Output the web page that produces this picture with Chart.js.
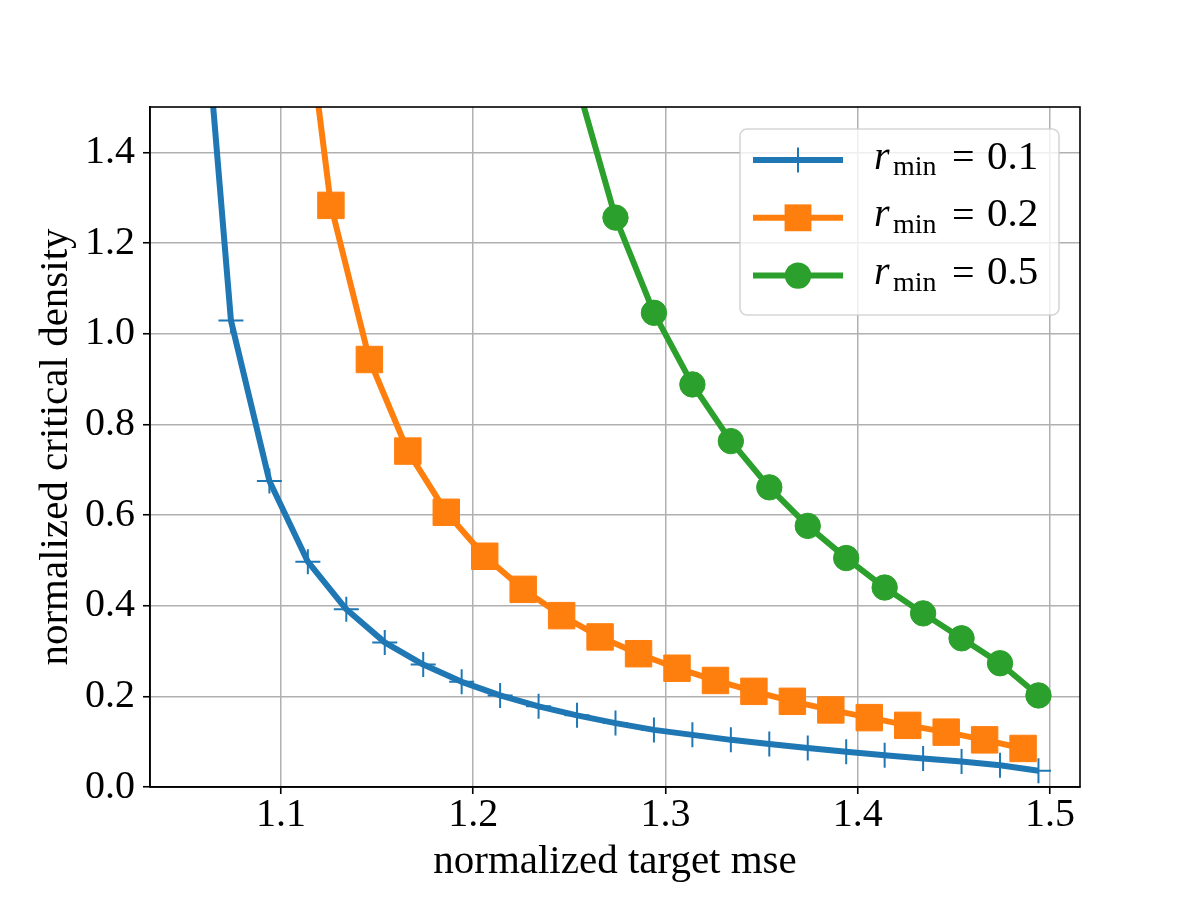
<!DOCTYPE html>
<html>
<head>
<meta charset="utf-8">
<title>critical density vs target mse</title>
<script src="https://cdn.jsdelivr.net/npm/chart.js@4.4.1/dist/chart.umd.min.js"></script>
<style>
  html, body { margin: 0; padding: 0; background: #fff; }
  canvas { display: block; }
</style>
</head>
<body>
<canvas id="myChart" width="1200" height="900"></canvas>
<script>
// values (first point of each series sits above the visible range)
const blueX = [1.054, 1.074, 1.094, 1.114, 1.134, 1.154, 1.174, 1.194, 1.214, 1.234, 1.254, 1.274,
               1.294, 1.314, 1.334, 1.354, 1.374, 1.394, 1.414, 1.434, 1.454, 1.474, 1.494]
const blueY = [2.05, 1.029, 0.675, 0.497, 0.392, 0.319, 0.270, 0.232, 0.202, 0.178, 0.158, 0.141,
               0.126, 0.115, 0.104, 0.095, 0.086, 0.078, 0.070, 0.063, 0.056, 0.048, 0.036]

const orangeX = [1.106, 1.126, 1.146, 1.166, 1.186, 1.206, 1.226, 1.246, 1.266, 1.286, 1.306, 1.326,
                 1.346, 1.366, 1.386, 1.406, 1.426, 1.446, 1.466, 1.486]
const orangeY = [1.96, 1.283, 0.943, 0.741, 0.606, 0.509, 0.436, 0.378, 0.331, 0.294, 0.262, 0.235,
                 0.211, 0.189, 0.170, 0.153, 0.136, 0.121, 0.104, 0.085]

const greenX = [1.254, 1.274, 1.294, 1.314, 1.334, 1.354, 1.374, 1.394, 1.414, 1.434, 1.454, 1.474, 1.494]
const greenY = [1.553, 1.256, 1.046, 0.888, 0.763, 0.661, 0.576, 0.505, 0.440, 0.383, 0.328, 0.273, 0.202]

const rMin = ['0.1', '0.2', '0.5']
const xTicks = [1.1, 1.2, 1.3, 1.4, 1.5]
const yTicks = [0.0, 0.2, 0.4, 0.6, 0.8, 1.0, 1.2, 1.4]
const xLimits = [1.0319, 1.5156]
const yLimits = [0, 1.5]
const xLabel = 'normalized target mse'
const yLabel = 'normalized critical density'

const FONT = "'Liberation Serif', 'DejaVu Serif', serif"
const BLUE = '#1f77b4', ORANGE = '#ff7f0e', GREEN = '#2ca02c'

function toPoints(xs, ys){
    return xs.map((x, i) => ({x: x, y: ys[i]}))
}

// black box around the axes, like matplotlib spines
const framePlugin = {
    id: 'frame',
    afterDraw(chart){
        const {ctx, chartArea: a} = chart
        ctx.save()
        ctx.strokeStyle = '#000'
        ctx.lineWidth = 1.6
        ctx.strokeRect(a.left, a.top, a.right - a.left, a.bottom - a.top)
        ctx.restore()
    }
}

function drawMarker(ctx, style, x, y, r){
    ctx.beginPath()
    if(style === 'cross'){
        ctx.lineWidth = 2
        ctx.moveTo(x - r, y); ctx.lineTo(x + r, y)
        ctx.moveTo(x, y - r); ctx.lineTo(x, y + r)
        ctx.stroke()
    } else if(style === 'rect'){
        const s = Math.SQRT1_2 * r
        ctx.rect(x - s, y - s, 2 * s, 2 * s)
        ctx.fill()
    } else {
        ctx.arc(x, y, r, 0, Math.PI * 2)
        ctx.fill()
    }
}

// legend drawn by hand so the subscript "min" can be set smaller
const legendPlugin = {
    id: 'mplLegend',
    afterDraw(chart){
        const ctx = chart.ctx
        ctx.save()
        ctx.beginPath()
        ctx.roundRect(740, 129, 319, 186, 7)
        ctx.fillStyle = 'rgba(255,255,255,0.8)'
        ctx.fill()
        ctx.strokeStyle = 'rgba(204,204,204,0.8)'
        ctx.lineWidth = 1.6
        ctx.stroke()

        chart.data.datasets.forEach((ds, i) => {
            const y = 160 + i * 57.8
            ctx.strokeStyle = ds.borderColor
            ctx.fillStyle = ds.borderColor
            ctx.lineWidth = ds.borderWidth
            ctx.beginPath()
            ctx.moveTo(753, y)
            ctx.lineTo(843, y)
            ctx.stroke()
            drawMarker(ctx, ds.pointStyle, 798, y, ds.legendRadius)

            ctx.fillStyle = '#000'
            ctx.textAlign = 'left'
            ctx.textBaseline = 'alphabetic'
            ctx.font = 'italic 40px ' + FONT
            ctx.fillText('r', 874, y + 8.5)
            ctx.font = '28px ' + FONT
            ctx.fillText('min', 893, y + 15)
            ctx.font = '40px ' + FONT
            ctx.fillText('=', 952, y + 10)
            ctx.font = '41px ' + FONT
            ctx.fillText(rMin[i], 987, y + 8.5)
        })
        ctx.restore()
    }
}

const gridOpts = {
    color: '#b0b0b0',
    lineWidth: 1.5,
    drawTicks: true,
    tickLength: 7,
    tickColor: '#000',
    tickWidth: 1.6
}

const ctx = document.getElementById('myChart').getContext('2d')

const critChart = new Chart(ctx, {
    type: 'line',
    data: {
        datasets: [
            {
                label: 'r_min = ' + rMin[0],
                data: toPoints(blueX, blueY),
                borderColor: BLUE,
                backgroundColor: BLUE,
                borderWidth: 6,
                borderJoinStyle: 'round',
                pointStyle: 'cross',
                pointRadius: 12.5,
                pointBorderWidth: 2,
                pointBorderColor: BLUE,
                pointBackgroundColor: BLUE,
                legendRadius: 12.5,
                clip: 0,
                order: 2
            },
            {
                label: 'r_min = ' + rMin[1],
                data: toPoints(orangeX, orangeY),
                borderColor: ORANGE,
                backgroundColor: ORANGE,
                borderWidth: 6,
                borderJoinStyle: 'round',
                pointStyle: 'rect',
                pointRadius: 18.7,
                pointBorderWidth: 1,
                pointBorderColor: ORANGE,
                pointBackgroundColor: ORANGE,
                legendRadius: 19,
                clip: 0,
                order: 1
            },
            {
                label: 'r_min = ' + rMin[2],
                data: toPoints(greenX, greenY),
                borderColor: GREEN,
                backgroundColor: GREEN,
                borderWidth: 6,
                borderJoinStyle: 'round',
                pointStyle: 'circle',
                pointRadius: 12.7,
                pointBorderWidth: 1,
                pointBorderColor: GREEN,
                pointBackgroundColor: GREEN,
                legendRadius: 13.2,
                clip: 0,
                order: 0
            }
        ]
    },
    options: {
        responsive: false,
        animation: false,
        devicePixelRatio: 1,
        layout: { padding: { left: 0, right: 120, top: 107, bottom: 0 } },
        plugins: {
            legend: { display: false },
            tooltip: { enabled: false }
        },
        scales: {
            x: {
                type: 'linear',
                min: xLimits[0],
                max: xLimits[1],
                afterBuildTicks: axis => { axis.ticks = xTicks.map(v => ({value: v})) },
                afterFit: axis => { axis.height = 113 },
                ticks: {
                    color: '#000',
                    font: { family: FONT, size: 40, lineHeight: 1.0 },
                    padding: 1,
                    maxRotation: 0,
                    autoSkip: false,
                    callback: v => v.toFixed(1)
                },
                grid: gridOpts,
                border: { display: true, color: '#000', width: 1.6 },
                title: {
                    display: true,
                    text: xLabel,
                    color: '#000',
                    font: { family: FONT, size: 41, lineHeight: 1.2 },
                    padding: { top: 0, bottom: 13 }
                }
            },
            y: {
                type: 'linear',
                min: yLimits[0],
                max: yLimits[1],
                afterBuildTicks: axis => { axis.ticks = yTicks.map(v => ({value: v})) },
                afterFit: axis => { axis.width = 150 },
                ticks: {
                    color: '#000',
                    font: { family: FONT, size: 40, lineHeight: 1.0 },
                    padding: 8,
                    autoSkip: false,
                    callback: v => v.toFixed(1)
                },
                grid: gridOpts,
                border: { display: true, color: '#000', width: 1.6 },
                title: {
                    display: true,
                    text: yLabel,
                    color: '#000',
                    font: { family: FONT, size: 41, lineHeight: 1.2 },
                    padding: { top: 32, bottom: 0 }
                }
            }
        }
    },
    plugins: [framePlugin, legendPlugin]
})
</script>
</body>
</html>
